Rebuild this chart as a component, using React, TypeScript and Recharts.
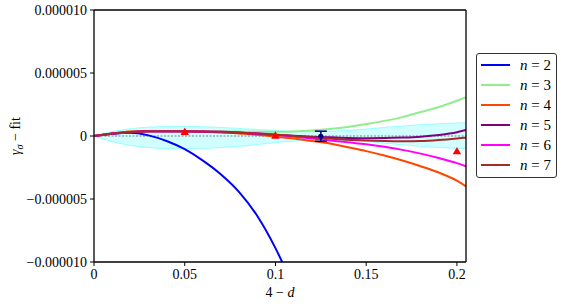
import React from 'react';
import { ComposedChart, Line, Area, Scatter, XAxis, YAxis, ReferenceLine, ErrorBar } from 'recharts';

// All y values are in units of 1e-6
const UNIT = 1e-6;

const gridX = [0, 0.01, 0.02, 0.03, 0.04, 0.05, 0.06, 0.07, 0.08, 0.09, 0.1, 0.11, 0.12, 0.13, 0.14, 0.15, 0.16, 0.17, 0.18, 0.19, 0.2, 0.205];

const n2X = [0, 0.01, 0.02, 0.03, 0.04, 0.05, 0.06, 0.07, 0.08, 0.09, 0.1, 0.11];
const n2Y = [0, 0.18, 0.25, 0.05, -0.4, -1.05, -1.95, -3.05, -4.45, -6.35, -8.9, -12.0];

const n3Y = [0, 0.2, 0.35, 0.4, 0.4, 0.4, 0.4, 0.38, 0.35, 0.33, 0.33, 0.36, 0.43, 0.55, 0.72, 0.95, 1.2, 1.5, 1.9, 2.3, 2.8, 3.07];
const n4Y = [0, 0.2, 0.35, 0.4, 0.4, 0.38, 0.35, 0.3, 0.2, 0.1, -0.05, -0.2, -0.4, -0.6, -0.9, -1.2, -1.55, -1.95, -2.4, -2.9, -3.55, -4.0];
const n5Y = [0, 0.18, 0.3, 0.35, 0.36, 0.35, 0.33, 0.3, 0.25, 0.18, 0.1, 0.02, -0.05, -0.1, -0.15, -0.17, -0.16, -0.12, -0.05, 0.08, 0.3, 0.48];
const n6Y = [0, 0.2, 0.32, 0.37, 0.38, 0.38, 0.36, 0.33, 0.28, 0.2, 0.1, -0.05, -0.2, -0.35, -0.5, -0.65, -0.85, -1.1, -1.4, -1.75, -2.15, -2.4];
const n7Y = [0, 0.2, 0.32, 0.37, 0.38, 0.38, 0.36, 0.33, 0.28, 0.2, 0.1, 0.0, -0.1, -0.2, -0.3, -0.36, -0.4, -0.42, -0.4, -0.32, -0.2, -0.13];

const bandLow = [0, -0.45, -0.75, -0.92, -1.0, -1.02, -1.0, -0.92, -0.82, -0.68, -0.52, -0.4, -0.32, -0.3, -0.35, -0.45, -0.58, -0.7, -0.82, -0.92, -0.98, -1.0];
const bandHigh = [0, 0.35, 0.58, 0.7, 0.75, 0.76, 0.74, 0.68, 0.6, 0.52, 0.44, 0.38, 0.36, 0.38, 0.45, 0.55, 0.68, 0.8, 0.9, 0.98, 1.03, 1.06];

const triX = [0.05, 0.1, 0.2];
const triY = [0.35, 0.05, -1.19];

const ptX = [0.125];
const ptY = [-0.02];
const ptErr = [0.4];

const seriesNames = ['n = 2', 'n = 3', 'n = 4', 'n = 5', 'n = 6', 'n = 7'];
const seriesColors = ['#0000ff', '#90ee90', '#ff4500', '#800080', '#ff00ff', '#a52a2a'];
const seriesValues = [n2Y, n3Y, n4Y, n5Y, n6Y, n7Y];

const xTicks = [0, 0.05, 0.1, 0.15, 0.2];
const yTicks = [-10, -5, 0, 5, 10];

const FONT = "'Liberation Serif', 'Times New Roman', serif";

const seriesData = seriesValues.map((vals, si) =>
  (si === 0 ? n2X : gridX).map((x, i) => ({ x, y: vals[i] }))
);
const bandData = gridX.map((x, i) => ({ x, band: [bandLow[i], bandHigh[i]] }));
const triData = triX.map((x, i) => ({ x, y: triY[i] }));
const ptData = ptX.map((x, i) => ({ x, y: ptY[i], err: ptErr[i] }));

const fmtY = (v: number) => {
  if (v === 0) return '0';
  const s = (Math.abs(v) * UNIT).toFixed(6);
  return (v < 0 ? '\u2212' : '') + s;
};
const fmtX = (v: number) => (v === 0 ? '0' : String(v));

const Triangle = (props: any) => {
  const { cx, cy } = props;
  if (cx == null || cy == null) return null;
  return <polygon points={`${cx},${cy - 4} ${cx - 4.2},${cy + 3.3} ${cx + 4.2},${cy + 3.3}`} fill="#ff0000" />;
};

const Dot = (props: any) => {
  const { cx, cy } = props;
  if (cx == null || cy == null) return null;
  return <circle cx={cx} cy={cy} r={2.6} fill="#00008b" />;
};

const LegendBox = () => (
  <div
    style={{
      position: 'absolute',
      left: 476,
      top: 53,
      border: '1px solid #333',
      borderRadius: 3,
      background: '#fff',
      padding: '1px 0 2px 0',
      width: 79,
      boxSizing: 'content-box',
    }}
  >
    {seriesNames.map((name, i) => {
      const parts = name.split(' ');
      return (
        <div key={name} style={{ height: 20, display: 'flex', alignItems: 'center' }}>
          <svg width={43} height={20} style={{ display: 'block' }}>
            <line x1={4} y1={10} x2={33} y2={10} stroke={seriesColors[i]} strokeWidth={2} />
          </svg>
          <span style={{ fontFamily: FONT, fontSize: 15, color: '#000', whiteSpace: 'nowrap' }}>
            <i>{parts[0]}</i> {parts[1]} {parts[2]}
          </span>
        </div>
      );
    })}
  </div>
);

const YLabel = () => (
  <text
    x={0}
    y={0}
    transform="translate(20,136) rotate(-90)"
    textAnchor="middle"
    fontFamily={FONT}
    fontSize={14}
    fill="#000"
  >
    <tspan fontStyle="italic">γ</tspan>
    <tspan fontStyle="italic" fontSize={10} dy={3}>σ</tspan>
    <tspan dy={-3}> − fit</tspan>
  </text>
);

const XLabel = () => (
  <text x={280} y={297} textAnchor="middle" fontFamily={FONT} fontSize={14} fill="#000">
    4 − <tspan fontStyle="italic">d</tspan>
  </text>
);

export default function App() {
  return (
    <div style={{ position: 'absolute', left: 0, top: 0, width: 564, height: 305, background: '#fff' }}>
      <ComposedChart width={564} height={305} margin={{ top: 10, right: 98, bottom: 0, left: 0 }}>
        <XAxis
          dataKey="x"
          type="number"
          domain={[0, 0.205]}
          ticks={xTicks}
          tickFormatter={fmtX}
          allowDataOverflow
          height={43}
          tickSize={4}
          tickMargin={3}
          stroke="#000"
          axisLine={{ stroke: '#000', strokeWidth: 1.3 }}
          tickLine={{ stroke: '#000', strokeWidth: 1 }}
          tick={{ fill: '#000', fontFamily: FONT, fontSize: 14 }}
          label={{ content: XLabel }}
        />
        <YAxis
          type="number"
          domain={[-10, 10]}
          ticks={yTicks}
          tickFormatter={fmtY}
          allowDataOverflow
          width={94}
          tickSize={4}
          tickMargin={3}
          stroke="#000"
          axisLine={{ stroke: '#000', strokeWidth: 1.3 }}
          tickLine={{ stroke: '#000', strokeWidth: 1 }}
          tick={{ fill: '#000', fontFamily: FONT, fontSize: 14 }}
          label={{ content: YLabel }}
        />
        <Area
          data={bandData}
          dataKey="band"
          type="monotone"
          fill="#00ffff"
          fillOpacity={0.18}
          stroke="#00ffff"
          strokeOpacity={0.35}
          strokeWidth={1}
          isAnimationActive={false}
          legendType="none"
        />
        <ReferenceLine y={0} stroke="#808080" strokeDasharray="2 1.5" strokeWidth={1} />
        {seriesValues.map((_, i) => (
          <Line
            key={seriesNames[i]}
            data={seriesData[i]}
            dataKey="y"
            name={seriesNames[i]}
            type="monotone"
            stroke={seriesColors[i]}
            strokeWidth={2}
            dot={false}
            activeDot={false}
            isAnimationActive={false}
          />
        ))}
        <Scatter data={triData} dataKey="y" shape={Triangle} isAnimationActive={false} legendType="none" />
        <Scatter data={ptData} dataKey="y" shape={Dot} isAnimationActive={false} legendType="none">
          <ErrorBar dataKey="err" direction="y" width={6} stroke="#00008b" strokeWidth={1.5} />
        </Scatter>
        <ReferenceLine y={10} stroke="#000" strokeWidth={1.3} />
        <ReferenceLine x={0.205} stroke="#000" strokeWidth={1.3} />
      </ComposedChart>
      <LegendBox />
    </div>
  );
}
